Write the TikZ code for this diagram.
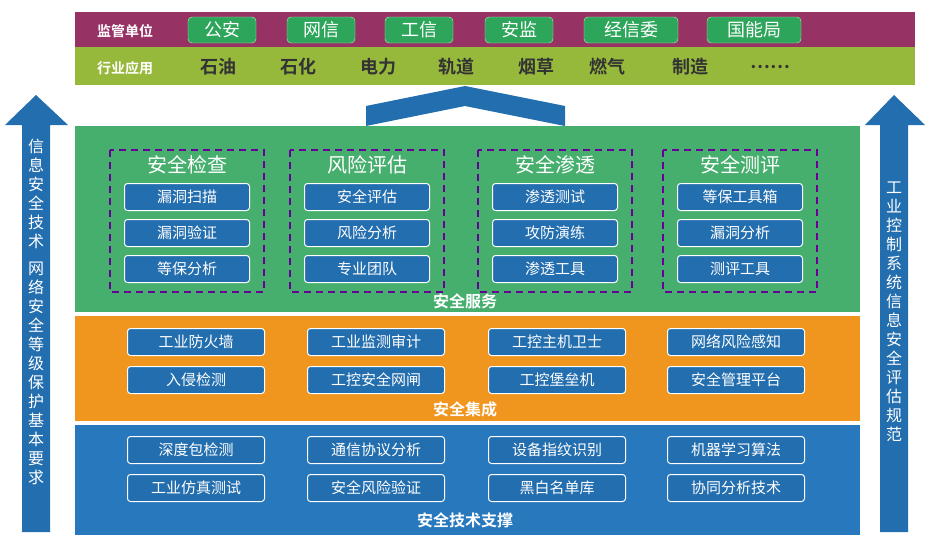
\documentclass[tikz,border=0pt]{standalone}
\usepackage{fontspec}
\setmainfont{Noto Sans CJK SC}
\newfontfamily\cjkb{Noto Sans CJK SC Bold}
\begin{document}
\begin{tikzpicture}[x=1pt,y=-1pt,
  tagbox/.style={draw=white!70!green,rounded corners=4pt,text=white,minimum height=26pt,font=\fontsize{18}{18}\selectfont},
  svc/.style={draw=white,line width=1pt,rounded corners=3pt,text=white,minimum width=125pt,minimum height=27pt,inner sep=1pt,font=\fontsize{15}{15}\selectfont},
  integ/.style={svc,minimum width=137pt},
  grp/.style={draw=violet!80!blue,dashed,line width=1.6pt,dash pattern=on 7pt off 5pt},
  gtitle/.style={text=white,font=\fontsize{20}{20}\selectfont},
  layer/.style={text=white,font=\cjkb\fontsize{16}{16}\selectfont},
  ind/.style={text=black!80,font=\cjkb\fontsize{18}{18}\selectfont},
  vtext/.style={text=white,align=center,font=\fontsize{16}{19}\selectfont}]
\useasboundingbox (0,0) rectangle (936,546);
\definecolor{plum}{RGB}{150,50,100}
\definecolor{olive}{RGB}{150,185,60}
\definecolor{gpanel}{RGB}{70,175,110}
\definecolor{opanel}{RGB}{240,150,30}
\definecolor{bpanel}{RGB}{40,120,190}
\definecolor{sbox}{RGB}{35,110,175}
\definecolor{tagg}{RGB}{45,165,90}
\tikzset{svc/.append style={fill=sbox},tagbox/.append style={fill=tagg},bigarrow/.style={fill=sbox}}
% top bands
\fill[plum] (75,12) rectangle (915,47);
\fill[olive] (75,47) rectangle (915,85);
\node[text=white,font=\cjkb\fontsize{14}{14}\selectfont] (jg) at (125,31) {监管单位};
\node[tagbox,minimum width=68pt] (t1) at (222,30) {公安};
\node[tagbox,minimum width=68pt] (t2) at (321,30) {网信};
\node[tagbox,minimum width=68pt] (t3) at (419,30) {工信};
\node[tagbox,minimum width=68pt] (t4) at (519,30) {安监};
\node[tagbox,minimum width=94pt] (t5) at (631,30) {经信委};
\node[tagbox,minimum width=94pt] (t6) at (754,30) {国能局};
\node[text=white,font=\cjkb\fontsize{14}{14}\selectfont] (hy) at (125,68) {行业应用};
\node[ind] (i1) at (218,67) {石油};
\node[ind] (i2) at (298,67) {石化};
\node[ind] (i3) at (378,67) {电力};
\node[ind] (i4) at (456,67) {轨道};
\node[ind] (i5) at (536,67) {烟草};
\node[ind] (i6) at (607,67) {燃气};
\node[ind] (i7) at (690,67) {制造};
\node[ind] (i8) at (770,67) {……};
% chevron
\fill[bigarrow] (366,126) -- (366,106) -- (465,86) -- (565,106) -- (565,126) -- (465,106) -- cycle;
% side arrows
\fill[bigarrow] (22,532) -- (22,125) -- (5,125) -- (36,95) -- (68,125) -- (50,125) -- (50,532) -- cycle;
\fill[bigarrow] (880,532) -- (880,125) -- (865,125) -- (894,95) -- (925,125) -- (908,125) -- (908,532) -- cycle;
\node[vtext] (lv) at (36,312) {信\\息\\安\\全\\技\\术\\[8pt]网\\络\\安\\全\\等\\级\\保\\护\\基\\本\\要\\求};
\node[vtext] (rv) at (894,312) {工\\业\\控\\制\\系\\统\\信\\息\\安\\全\\评\\估\\规\\范};
% panels
\fill[gpanel] (75,126) rectangle (860,312);
\fill[opanel] (75,316) rectangle (860,421);
\fill[bpanel] (75,425) rectangle (860,535);
% service groups
\foreach \cx/\t/\a/\b/\c [count=\i] in {187/安全检查/漏洞扫描/漏洞验证/等保分析, 367/风险评估/安全评估/风险分析/专业团队, 555/安全渗透/渗透测试/攻防演练/渗透工具, 740/安全测评/等保工具箱/漏洞分析/测评工具}{
  \draw[grp] (\cx-77,150) rectangle (\cx+77,292);
  \node[gtitle] (g\i) at (\cx,165) {\t};
  \node[svc] (s\i a) at (\cx,197) {\a};
  \node[svc] (s\i b) at (\cx,233) {\b};
  \node[svc] (s\i c) at (\cx,269) {\c};
}
\node[layer] (L1) at (465,301) {安全服务};
\foreach \cx/\a/\b [count=\i] in {196/工业防火墙/入侵检测, 376/工业监测审计/工控安全网闸, 557/工控主机卫士/工控堡垒机, 736/网络风险感知/安全管理平台}{
  \node[integ] (o\i a) at (\cx,342) {\a};
  \node[integ] (o\i b) at (\cx,380) {\b};
}
\node[layer] (L2) at (465,409) {安全集成};
\foreach \cx/\a/\b [count=\i] in {196/深度包检测/工业仿真测试, 376/通信协议分析/安全风险验证, 557/设备指纹识别/黑白名单库, 736/机器学习算法/协同分析技术}{
  \node[integ] (b\i a) at (\cx,450) {\a};
  \node[integ] (b\i b) at (\cx,488) {\b};
}
\node[layer] (L3) at (465,520) {安全技术支撑};
\end{tikzpicture}
\end{document}
